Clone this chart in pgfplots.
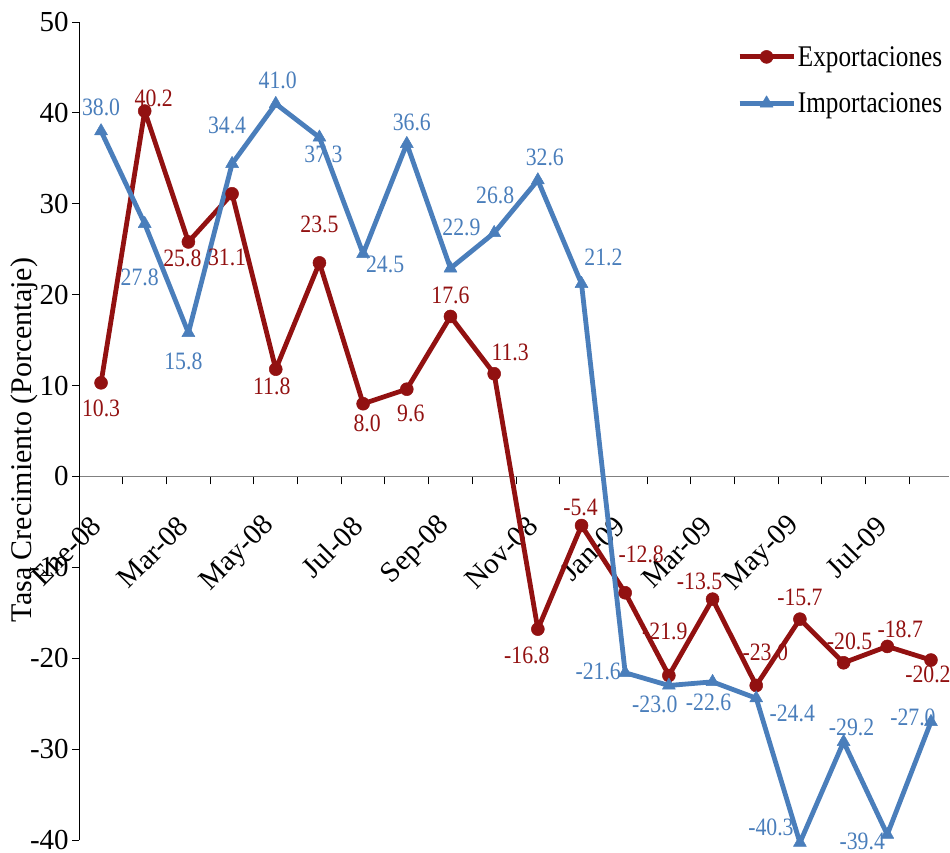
\documentclass[border=0pt]{standalone}
\usepackage{fontspec}
\setmainfont{Liberation Serif}
\newfontfamily\condfont{Liberation Serif}[FakeStretch=0.87]
\newfontfamily\legfont{Liberation Serif}[FakeStretch=0.84]
\usepackage{pgfplots}
\usepackage{pgfplotstable}
\pgfplotsset{compat=1.18}

\definecolor{expred}{RGB}{146,17,17}
\definecolor{impblue}{RGB}{74,126,187}

% x = month index (0 = Ene-08), dx/dy = label offset from the point
\pgfplotstableread{
x y dx dy
0 10.3 0 -26
1 40.2 9 13
2 25.8 -6 -16
3 31.1 -5 -64
4 11.8 -4 -17
5 23.5 0 38
6 8.0 4 -20
7 9.6 4 -24
8 17.6 0 21
9 11.3 16 21
10 -16.8 -11 -26
11 -5.4 -1 18
12 -12.8 16 38
13 -21.9 -4 44
14 -13.5 -13 18
15 -23.0 9 33
16 -15.7 0 22
17 -20.5 6 21
18 -18.7 13 17
19 -20.2 -3 -14
}\exptable

\pgfplotstableread{
x y dx dy
0 38.0 0 24
1 27.8 -5 -54
2 15.8 -5 -29
3 34.4 -5 38
4 41.0 2 23
5 37.3 4 -17
6 24.5 22 -11
7 36.6 5 21
8 22.9 11 41
9 26.8 1 38
10 32.6 7 23
11 21.2 22 26
12 -21.6 -27 1
13 -23.0 -14 -19
14 -22.6 -4 -21
15 -24.4 36 -15
16 -40.3 -29 15
17 -29.2 8 14
18 -39.4 -25 -7
19 -27.0 -18 4
}\imptable

\begin{document}
\begin{tikzpicture}
\begin{axis}[
    scale only axis,
    width=870.1pt, height=818pt,
    xmin=-0.5, xmax=19.42,
    ymin=-40, ymax=50,
    clip=false,
    axis x line*=middle,
    axis y line*=left,
    x axis line style={draw=gray, line width=1.3pt},
    y axis line style={line width=1pt},
    hide obscured x ticks=false,
    hide obscured y ticks=false,
    ytick={-40,-30,...,50},
    xtick={0,2,...,18},
    xticklabels={Ene-08,Mar-08,May-08,Jul-08,Sep-08,Nov-08,Jan-09,Mar-09,May-09,Jul-09},
    minor xtick={0.5,1.5,...,18.5},
    tick align=outside,
    major tick length=7pt,
    minor tick length=8pt,
    every major x tick/.append style={draw=none},
    every minor x tick/.append style={black, line width=1pt},
    every major y tick/.append style={black, line width=1pt},
    /pgf/number format/assume math mode=true,
    yticklabel style={font=\fontsize{29}{29}\selectfont},
    xticklabel style={font=\fontsize{29}{29}\selectfont, inner sep=0pt,
        xshift=-5pt, yshift=-38pt, rotate=45, anchor=east},
    ylabel={Tasa Crecimiento (Porcentaje)},
    every axis y label/.style={at={(axis description cs:-0.063,0.489)},
        rotate=90, anchor=center, inner sep=0pt, font=\fontsize{30}{30}\selectfont},
    legend style={draw=none, fill=none, at={(rel axis cs:1,1)}, anchor=north east,
        xshift=-5pt, yshift=-22pt, font=\legfont\fontsize{30}{30}\selectfont,
        row sep=21pt, inner sep=0pt, cells={anchor=west}},
    legend image code/.code={
        \draw[mark repeat=2, mark phase=2] plot coordinates {(0pt,0pt) (27pt,0pt) (54pt,0pt)};},
]
\addplot[expred, line width=4.8pt, line join=round, mark=*, mark size=6.5pt,
    mark options={solid, line width=0.5pt}] table[x=x, y=y] {\exptable};
\addlegendentry{Exportaciones}
\addplot[impblue, line width=4.8pt, line join=round, mark=triangle*, mark size=7.5pt,
    mark options={solid, line width=0.5pt}] table[x=x, y=y] {\imptable};
\addlegendentry{Importaciones}

% data labels on top of both lines
\addplot[draw=none, forget plot, point meta=explicit,
    nodes near coords={\pgfmathprintnumber[fixed, fixed zerofill, precision=1]{\pgfplotspointmeta}},
    visualization depends on={\thisrow{dx} \as \ldx},
    visualization depends on={\thisrow{dy} \as \ldy},
    every node near coord/.append style={anchor=center, xshift=\ldx, yshift=\ldy,
        text=expred, inner sep=0pt, font=\condfont\fontsize{25}{25}\selectfont}]
    table[x=x, y=y, meta=y] {\exptable};
\addplot[draw=none, forget plot, point meta=explicit,
    nodes near coords={\pgfmathprintnumber[fixed, fixed zerofill, precision=1]{\pgfplotspointmeta}},
    visualization depends on={\thisrow{dx} \as \ldx},
    visualization depends on={\thisrow{dy} \as \ldy},
    every node near coord/.append style={anchor=center, xshift=\ldx, yshift=\ldy,
        text=impblue, inner sep=0pt, font=\condfont\fontsize{25}{25}\selectfont}]
    table[x=x, y=y, meta=y] {\imptable};

\coordinate (bl) at (rel axis cs:0,0);
\end{axis}
\pgfresetboundingbox
\path ([xshift=-79.2pt, yshift=-12pt]bl) rectangle ([xshift=870.8pt, yshift=840pt]bl);
\end{tikzpicture}
\end{document}
